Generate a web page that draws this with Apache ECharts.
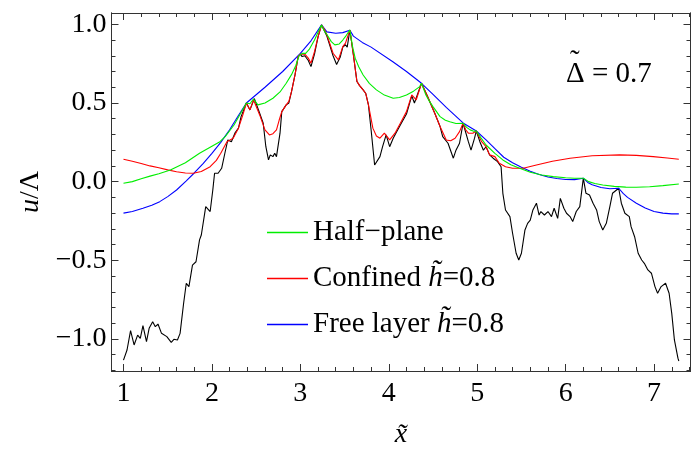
<!DOCTYPE html>
<html><head><meta charset="utf-8">
<script src="https://cdn.jsdelivr.net/npm/echarts@6/dist/echarts.min.js"></script>
<style>html,body{margin:0;padding:0;background:#fff}#c{width:692px;height:459px}</style>
</head><body><div id="c"></div>
<script>
// ---- data (x̃, u/Λ) ----
const freeLayerEnvelope = [[1.0,-0.20],[1.1,-0.19],[1.22,-0.169],[1.32,-0.15],[1.41,-0.127],[1.5,-0.095],[1.6,-0.053],[1.71,0.005],[1.8,0.055],[1.9,0.115],[2.0,0.18],[2.1,0.25],[2.2,0.33],[2.3,0.42],[2.39,0.50],[2.6,0.60],[2.8,0.70],[3.0,0.815],[3.12,0.895],[3.24,0.996],[3.3,0.952],[3.4,0.943],[3.48,0.947],[3.56,0.962],[3.6,0.925],[3.7,0.885],[3.8,0.855],[4.05,0.76],[4.2,0.70],[4.37,0.625],[4.5,0.555],[4.65,0.472],[4.84,0.373],[4.99,0.322],[5.1,0.265],[5.2,0.21],[5.3,0.155],[5.4,0.12],[5.5,0.092],[5.6,0.066],[5.7,0.046],[5.8,0.03],[5.9,0.02],[6.0,0.014],[6.1,0.013],[6.2,0.022],[6.25,-0.005],[6.3,-0.02],[6.4,-0.037],[6.5,-0.045],[6.6,-0.042],[6.65,-0.075],[6.7,-0.1],[6.8,-0.137],[6.9,-0.168],[7.0,-0.19],[7.1,-0.2],[7.2,-0.205],[7.28,-0.205]];
const halfPlane = [[1.0,-0.01],[1.1,0.0],[1.2,0.018],[1.3,0.035],[1.4,0.05],[1.53,0.074],[1.7,0.12],[1.86,0.18],[2.0,0.225],[2.09,0.254],[2.15,0.286],[2.25,0.36],[2.33,0.44],[2.39,0.50],[2.43,0.495],[2.47,0.525],[2.52,0.488],[2.6,0.50],[2.69,0.53],[2.77,0.57],[2.84,0.625],[2.9,0.68],[2.95,0.74],[2.985,0.80],[3.02,0.815],[3.06,0.815],[3.1,0.84],[3.16,0.9],[3.2,0.95],[3.24,0.996],[3.27,0.96],[3.3,0.935],[3.35,0.89],[3.39,0.869],[3.44,0.875],[3.48,0.90],[3.52,0.93],[3.56,0.964],[3.59,0.86],[3.62,0.785],[3.66,0.73],[3.71,0.678],[3.78,0.625],[3.86,0.583],[3.95,0.55],[4.05,0.53],[4.12,0.535],[4.2,0.551],[4.28,0.575],[4.35,0.604],[4.37,0.625],[4.42,0.55],[4.46,0.51],[4.5,0.477],[4.58,0.413],[4.64,0.39],[4.69,0.381],[4.76,0.37],[4.84,0.371],[4.88,0.345],[4.92,0.329],[4.96,0.32],[4.99,0.322],[5.04,0.28],[5.1,0.233],[5.2,0.18],[5.29,0.138],[5.38,0.108],[5.48,0.085],[5.6,0.06],[5.73,0.042],[5.86,0.032],[6.0,0.025],[6.1,0.022],[6.2,0.022],[6.26,0.0],[6.33,-0.012],[6.42,-0.021],[6.55,-0.03],[6.68,-0.035],[6.8,-0.036],[6.95,-0.032],[7.1,-0.025],[7.28,-0.015]];
const confined = [[1.0,0.142],[1.1,0.13],[1.2,0.115],[1.3,0.10],[1.4,0.088],[1.5,0.075],[1.6,0.063],[1.7,0.055],[1.79,0.053],[1.88,0.065],[1.98,0.095],[2.05,0.135],[2.1,0.18],[2.17,0.254],[2.24,0.276],[2.30,0.34],[2.35,0.424],[2.39,0.50],[2.43,0.456],[2.47,0.52],[2.54,0.424],[2.60,0.329],[2.65,0.297],[2.69,0.305],[2.73,0.329],[2.76,0.39],[2.79,0.445],[2.84,0.488],[2.87,0.51],[2.90,0.572],[2.94,0.68],[2.975,0.795],[3.0,0.81],[3.02,0.80],[3.05,0.81],[3.09,0.785],[3.12,0.753],[3.16,0.826],[3.2,0.92],[3.24,0.996],[3.27,0.97],[3.30,0.933],[3.37,0.816],[3.43,0.774],[3.48,0.858],[3.51,0.88],[3.53,0.87],[3.56,0.964],[3.60,0.805],[3.64,0.636],[3.67,0.61],[3.71,0.583],[3.74,0.56],[3.77,0.488],[3.82,0.34],[3.86,0.29],[3.90,0.276],[3.95,0.308],[4.01,0.265],[4.07,0.308],[4.14,0.381],[4.20,0.445],[4.26,0.551],[4.31,0.519],[4.37,0.625],[4.44,0.54],[4.52,0.435],[4.58,0.35],[4.65,0.265],[4.70,0.26],[4.75,0.276],[4.80,0.318],[4.84,0.371],[4.87,0.33],[4.90,0.308],[4.95,0.308],[4.99,0.322],[5.05,0.254],[5.10,0.222],[5.14,0.17],[5.20,0.159],[5.25,0.117],[5.32,0.095],[5.40,0.085],[5.52,0.085],[5.67,0.106],[5.85,0.13],[6.05,0.149],[6.3,0.165],[6.61,0.17],[6.8,0.167],[6.99,0.159],[7.15,0.15],[7.28,0.142]];
const freeLayer = [[1.0,-1.134],[1.04,-1.07],[1.08,-0.947],[1.12,-1.038],[1.16,-0.975],[1.19,-0.996],[1.22,-0.915],[1.26,-1.017],[1.29,-0.932],[1.33,-0.89],[1.36,-0.922],[1.39,-0.905],[1.43,-0.964],[1.49,-0.985],[1.54,-1.021],[1.57,-1.002],[1.61,-1.006],[1.64,-0.964],[1.68,-0.773],[1.71,-0.646],[1.74,-0.667],[1.78,-0.53],[1.82,-0.509],[1.86,-0.37],[1.88,-0.339],[1.93,-0.159],[1.98,-0.19],[2.01,-0.053],[2.03,0.053],[2.07,0.053],[2.11,0.085],[2.15,0.19],[2.18,0.265],[2.22,0.254],[2.26,0.308],[2.30,0.34],[2.33,0.413],[2.39,0.50],[2.43,0.456],[2.48,0.528],[2.54,0.435],[2.58,0.371],[2.61,0.222],[2.64,0.138],[2.66,0.17],[2.69,0.159],[2.71,0.18],[2.73,0.159],[2.77,0.308],[2.79,0.445],[2.84,0.488],[2.87,0.50],[2.90,0.572],[2.94,0.68],[2.975,0.795],[3.0,0.81],[3.02,0.795],[3.05,0.80],[3.09,0.77],[3.12,0.731],[3.16,0.81],[3.2,0.92],[3.24,0.996],[3.30,0.925],[3.37,0.80],[3.41,0.745],[3.45,0.79],[3.48,0.855],[3.51,0.87],[3.53,0.855],[3.56,0.964],[3.60,0.805],[3.64,0.636],[3.67,0.61],[3.71,0.583],[3.74,0.56],[3.77,0.488],[3.80,0.33],[3.84,0.106],[3.86,0.10],[3.90,0.159],[3.93,0.222],[3.97,0.297],[4.01,0.222],[4.05,0.276],[4.08,0.308],[4.14,0.37],[4.20,0.43],[4.26,0.545],[4.29,0.50],[4.31,0.51],[4.37,0.625],[4.44,0.54],[4.52,0.435],[4.58,0.35],[4.61,0.286],[4.67,0.244],[4.73,0.149],[4.76,0.2],[4.80,0.244],[4.84,0.371],[4.90,0.254],[4.93,0.2],[4.97,0.276],[4.99,0.322],[5.03,0.254],[5.07,0.2],[5.10,0.222],[5.14,0.17],[5.18,0.149],[5.23,0.127],[5.27,0.095],[5.29,-0.074],[5.32,-0.18],[5.37,-0.222],[5.40,-0.328],[5.44,-0.455],[5.47,-0.498],[5.50,-0.455],[5.54,-0.307],[5.57,-0.265],[5.60,-0.244],[5.63,-0.18],[5.67,-0.137],[5.70,-0.212],[5.72,-0.19],[5.76,-0.212],[5.80,-0.19],[5.84,-0.222],[5.87,-0.169],[5.91,-0.233],[5.94,-0.106],[5.98,-0.169],[6.01,-0.201],[6.05,-0.222],[6.08,-0.254],[6.12,-0.19],[6.16,-0.159],[6.20,0.022],[6.23,-0.074],[6.27,-0.085],[6.31,-0.137],[6.35,-0.18],[6.38,-0.254],[6.42,-0.307],[6.46,-0.265],[6.50,-0.159],[6.53,-0.074],[6.60,-0.042],[6.63,-0.137],[6.67,-0.201],[6.72,-0.222],[6.74,-0.286],[6.78,-0.35],[6.82,-0.455],[6.86,-0.498],[6.89,-0.519],[6.93,-0.561],[6.97,-0.582],[7.01,-0.667],[7.04,-0.709],[7.08,-0.667],[7.13,-0.646],[7.17,-0.709],[7.20,-0.837],[7.23,-1.006],[7.27,-1.122],[7.28,-1.14]];

const xMajorTicks = [1,2,3,4,5,6,7];
const xMinorTicks = [1.2,1.4,1.6,1.8,2.2,2.4,2.6,2.8,3.2,3.4,3.6,3.8,4.2,4.4,4.6,4.8,5.2,5.4,5.6,5.8,6.2,6.4,6.6,6.8,7.2,7.4];
const yMajorTicks = [-1.0,-0.5,0.0,0.5,1.0];
const yMinorTicks = [-1.2,-1.1,-0.9,-0.8,-0.7,-0.6,-0.4,-0.3,-0.2,-0.1,0.1,0.2,0.3,0.4,0.6,0.7,0.8,0.9];
const seriesNames = ['Half\u2212plane','Confined h\u0303=0.8','Free layer h\u0303=0.8'];

const X_MIN = 0.8644, X_MAX = 7.412, Y_MIN = -1.2034, Y_MAX = 1.0718;
const FONT = '"Liberation Serif","Times New Roman",serif';
const FS = 28, LFS = 29;
const frameColor = '#333';

function fmtY(v){ const s = Math.abs(v).toFixed(1); return v < 0 ? '\u2212' + s : s; }

function xAx(pos, major, showLabel){
  return {
    type:'value', position: pos, min:X_MIN, max:X_MAX, gridIndex:0,
    axisLine:{show:true, onZero:false, lineStyle:{color:frameColor,width:1}},
    axisTick:{show:true, inside:true, length: major?7:4, customValues: major?xMajorTicks:xMinorTicks, lineStyle:{color:frameColor,width:1}},
    axisLabel:{show:showLabel, customValues:xMajorTicks, margin:9, fontFamily:FONT, fontSize:FS, color:'#000', formatter:v=>String(v)},
    splitLine:{show:false}
  };
}
function yAx(pos, major, showLabel){
  return {
    type:'value', position: pos, min:Y_MIN, max:Y_MAX, gridIndex:0,
    axisLine:{show:true, onZero:false, lineStyle:{color:frameColor,width:1}},
    axisTick:{show:true, inside:true, length: major?7:4, customValues: major?yMajorTicks:yMinorTicks, lineStyle:{color:frameColor,width:1}},
    axisLabel:{show:showLabel, customValues:yMajorTicks, margin:5, fontFamily:FONT, fontSize:FS, color:'#000', formatter:fmtY},
    splitLine:{show:false}
  };
}

const xAxes = [xAx('bottom',true,true), xAx('bottom',false,false), xAx('top',true,false), xAx('top',false,false)];
xAxes[0].name = '{i|x\u0303}';
xAxes[0].nameLocation = 'middle';
xAxes[0].nameGap = 50;
xAxes[0].nameTextStyle = {rich:{i:{fontFamily:FONT,fontSize:FS,fontStyle:'italic',color:'#000'}}};
const yAxes = [yAx('left',true,true), yAx('left',false,false), yAx('right',true,false), yAx('right',false,false)];
yAxes[0].name = '{i|u}{n|/\u039B}';
yAxes[0].nameLocation = 'middle';
yAxes[0].nameGap = 67;
yAxes[0].nameRotate = 90;
yAxes[0].nameTextStyle = {rich:{i:{fontFamily:FONT,fontSize:FS,fontStyle:'italic',color:'#000'},n:{fontFamily:FONT,fontSize:FS,color:'#000'}}};

function line(name, data, color, z){
  return {type:'line', name:name, data:data, xAxisIndex:0, yAxisIndex:0, showSymbol:false, symbol:'none',
    smooth:false, lineStyle:{color:color, width:1.1}, itemStyle:{color:color}, z:z, silent:true, animation:false, clip:true};
}

const chart = echarts.init(document.getElementById('c'), null, {renderer:'canvas'});
chart.setOption({
  animation:false,
  backgroundColor:'#fff',
  grid:{left:111.5, right:1.5, top:13, bottom:88, containLabel:false},
  xAxis:xAxes, yAxis:yAxes,
  legend:{
    data:seriesNames, orient:'vertical', left:262, top:213, icon:'rect', itemWidth:41, itemHeight:1.3,
    itemGap:17, itemTextGap:12, selectedMode:false,
    formatter:function(n){
      if(n.indexOf('h\u0303')>=0){ const p=n.split('h\u0303'); return '{n|'+p[0]+'}{i|h\u0303}{n|'+p[1]+'}'; }
      return '{n|'+n+'}';
    },
    textStyle:{rich:{n:{fontFamily:FONT,fontSize:LFS,color:'#000',lineHeight:30},i:{fontFamily:FONT,fontSize:LFS,fontStyle:'italic',color:'#000',lineHeight:30}}}
  },
  graphic:[
    {type:'text', left:566, top:60, style:{text:'\u0394 = 0.7', font:LFS+'px '+FONT, fill:'#000'}},
    {type:'text', left:570, top:48, style:{text:'\u02DC', font:LFS+'px '+FONT, fill:'#000'}}
  ],
  series:[
    line('', freeLayer, '#000000', 2),
    line(seriesNames[2], freeLayerEnvelope, '#0000ff', 3),
    line(seriesNames[1], confined, '#ff0000', 4),
    line(seriesNames[0], halfPlane, '#00ee00', 5)
  ]
});
</script></body></html>
